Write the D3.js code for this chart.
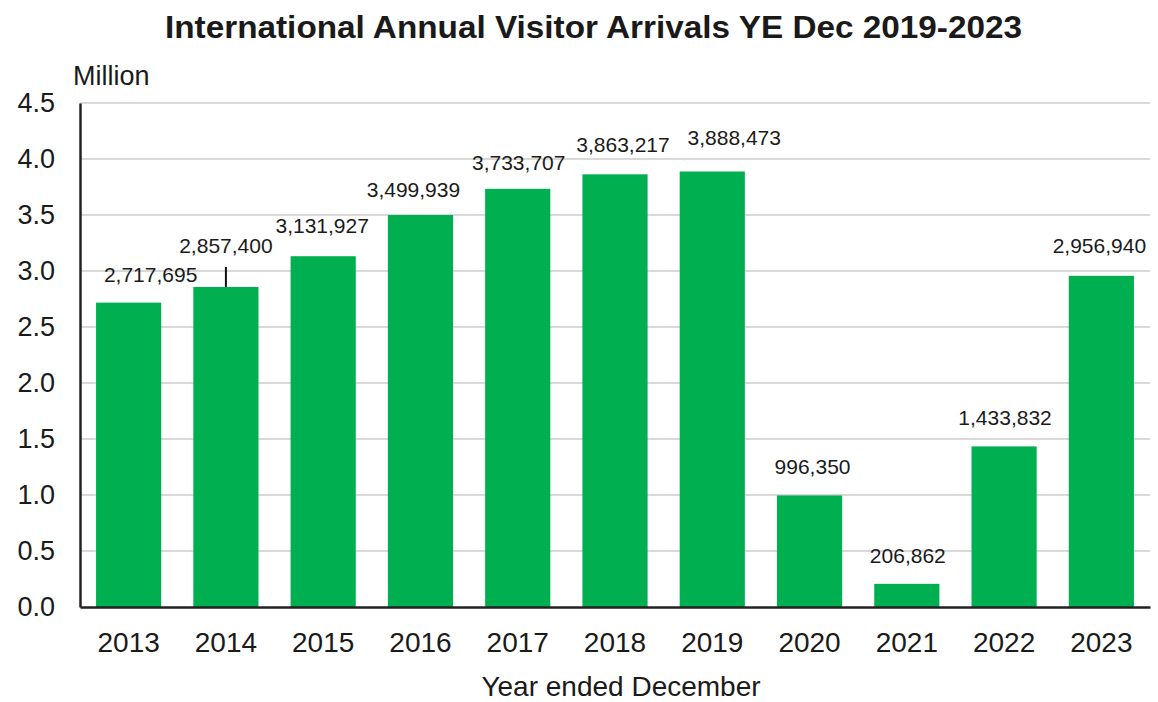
<!DOCTYPE html>
<html>
<head>
<meta charset="utf-8">
<script src="https://cdn.jsdelivr.net/npm/d3@7"></script>
<style>
    body { margin: 0; background: #fff; }
    text { font-family: "Liberation Sans", Arial, sans-serif; fill: #1a1a1a; }
</style>
</head>
<body>
<svg id="chart" width="1158" height="702"></svg>
<script>
// Visitor arrivals, year ended December
var years = ['2013', '2014', '2015', '2016', '2017', '2018', '2019', '2020', '2021', '2022', '2023'],
    arrivals = [2717695, 2857400, 3131927, 3499939, 3733707, 3863217, 3888473, 996350, 206862, 1433832, 2956940],
    yTicks = [0, 0.5, 1, 1.5, 2, 2.5, 3, 3.5, 4, 4.5];

// manual label placement, like the original chart [dx, dy]
var labelNudge = [[22, 0], [0, -13], [-1, -2], [-7, 3], [1, 2], [8, -1], [22, -5], [3, 0], [1, 0], [1, 0], [-2, -2]];

var WIDTH = 1158,
    HEIGHT = 702,
    margin = {left: 80, right: 8, top: 103, bottom: 95},
    GREEN = '#00b050';

var svg = d3.select('#chart');

var x = d3.scaleBand()
    .domain(years)
    .range([margin.left, WIDTH - margin.right])
    .paddingInner(0.33)
    .paddingOuter(0.165);

var y = d3.scaleLinear()
    .domain([0, 4.5])
    .range([HEIGHT - margin.bottom, margin.top]);

// gridlines
svg.append('g')
    .selectAll('line')
    .data(yTicks.slice(1))
    .join('line')
    .attr('x1', margin.left)
    .attr('x2', WIDTH - margin.right)
    .attr('y1', d => y(d))
    .attr('y2', d => y(d))
    .attr('stroke', '#d9d9d9')
    .attr('stroke-width', 2);

// y axis
var yAxis = svg.append('g')
    .attr('transform', `translate(${margin.left},0)`)
    .call(d3.axisLeft(y).tickValues(yTicks).tickFormat(d3.format('.1f')).tickSize(0).tickPadding(25));
yAxis.select('.domain').attr('stroke', '#222').attr('stroke-width', 2.5);
yAxis.selectAll('text')
    .style('font-size', '27px')
    .attr('fill', '#1a1a1a');

// bars
svg.append('g')
    .selectAll('rect')
    .data(arrivals)
    .join('rect')
    .attr('x', (d, i) => x(years[i]))
    .attr('y', d => y(d / 1e6))
    .attr('width', x.bandwidth())
    .attr('height', d => y(0) - y(d / 1e6))
    .attr('fill', GREEN);

// x axis
var xAxis = svg.append('g')
    .attr('transform', `translate(0,${y(0)})`)
    .call(d3.axisBottom(x).tickSize(0).tickPadding(25).tickSizeOuter(0));
xAxis.select('.domain').attr('stroke', '#222').attr('stroke-width', 2.5);
xAxis.selectAll('text')
    .style('font-size', '28px')
    .attr('fill', '#1a1a1a');

// value labels
var fmt = d3.format(',');
svg.append('g')
    .selectAll('text')
    .data(arrivals)
    .join('text')
    .attr('x', (d, i) => x(years[i]) + x.bandwidth()/2 + labelNudge[i][0])
    .attr('y', (d, i) => y(d / 1e6) - 21 + labelNudge[i][1])
    .attr('text-anchor', 'middle')
    .style('font-size', '21px')
    .text(d => fmt(d));

// leader line for the raised 2014 label
svg.append('line')
    .attr('x1', x('2014') + x.bandwidth()/2)
    .attr('x2', x('2014') + x.bandwidth()/2)
    .attr('y1', y(arrivals[1] / 1e6))
    .attr('y2', y(arrivals[1] / 1e6) - 20)
    .attr('stroke', '#111')
    .attr('stroke-width', 2);

// titles
svg.append('text')
    .attr('x', 165)
    .attr('y', 38)
    .attr('textLength', 857)
    .attr('lengthAdjust', 'spacingAndGlyphs')
    .style('font-size', '32px')
    .style('font-weight', 'bold')
    .attr('fill', '#111')
    .text('International Annual Visitor Arrivals YE Dec 2019-2023');

svg.append('text')
    .attr('x', 73)
    .attr('y', 85)
    .style('font-size', '27px')
    .text('Million');

svg.append('text')
    .attr('x', 621)
    .attr('y', 696)
    .attr('text-anchor', 'middle')
    .style('font-size', '28px')
    .text('Year ended December');
</script>
</body>
</html>
